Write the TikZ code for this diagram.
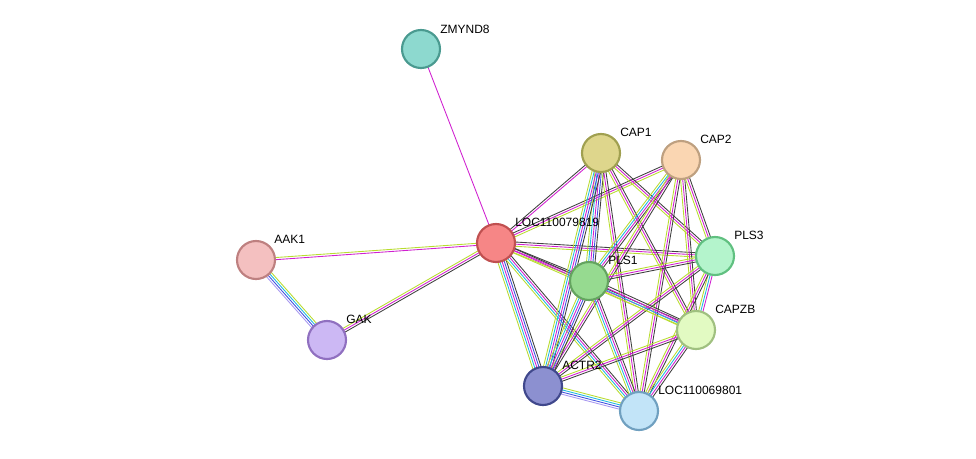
\documentclass[tikz,border=0pt]{standalone}
\usepackage{fontspec}
\setmainfont{Liberation Sans}
\usetikzlibrary{calc}
\definecolor{ek}{HTML}{404040}
\definecolor{em}{HTML}{D020D0}
\definecolor{ey}{HTML}{B8DC30}
\definecolor{ec}{HTML}{20B8E0}
\definecolor{eb}{HTML}{4050E0}
\definecolor{el}{HTML}{A898F0}
\newcommand\ed[4]{%
  \foreach \cc [count=\i] in {#4} {%
    \pgfmathsetmacro\o{(\i-(#3+1)/2)*1.6}%
    \draw[\cc,line width=0.65pt] ($(#1)!\o pt!90:(#2)$) -- ($(#2)!\o pt!-90:(#1)$);
  }}
\tikzset{
  prot/.style={circle,minimum size=28.5pt,inner sep=0pt,line width=1.6pt},
  lab/.style={anchor=base west,font=\fontsize{9}{10}\selectfont,inner sep=0pt}
}
\begin{document}
\begin{tikzpicture}[x=0.75pt,y=0.75pt]
\useasboundingbox (0,0) rectangle (976,-458);
\coordinate (zm) at (421,-49);
\coordinate (loc) at (496,-243);
\coordinate (cap1) at (601,-153);
\coordinate (cap2) at (681,-160);
\coordinate (aak) at (256,-260);
\coordinate (pls3) at (715,-256);
\coordinate (pls1) at (589,-281);
\coordinate (gak) at (327,-340);
\coordinate (capzb) at (696,-330);
\coordinate (actr) at (543,-386);
\coordinate (l69) at (639,-411);
% edges
\ed{zm}{loc}{1}{em}
\ed{loc}{aak}{2}{ey,em}
\ed{loc}{gak}{3}{ey,em,ek}
\ed{aak}{gak}{4}{el,eb,ec,ey}
\ed{loc}{cap1}{2}{em,ek}
\ed{loc}{cap2}{3}{ey,em,ek}
\ed{loc}{pls3}{3}{ey,em,ek}
\ed{loc}{pls1}{3}{ey,em,ek}
\ed{loc}{capzb}{3}{ey,em,ek}
\ed{loc}{actr}{5}{ey,ec,em,eb,ek}
\ed{loc}{l69}{4}{ey,ec,em,ek}
\ed{cap1}{pls1}{5}{ey,ec,em,eb,ek}
\ed{cap1}{actr}{5}{ey,ec,em,eb,ek}
\ed{cap1}{l69}{3}{ey,em,ek}
\ed{cap1}{capzb}{3}{ey,em,ek}
\ed{cap1}{pls3}{3}{ey,em,ek}
\ed{cap2}{pls1}{4}{ey,ec,em,ek}
\ed{cap2}{actr}{3}{ey,em,ek}
\ed{cap2}{capzb}{3}{ey,em,ek}
\ed{cap2}{l69}{3}{ey,em,ek}
\ed{cap2}{pls3}{3}{ey,em,ek}
\ed{pls3}{pls1}{3}{ey,em,ek}
\ed{pls3}{actr}{3}{ey,em,ek}
\ed{pls3}{capzb}{3}{ey,ec,em}
\ed{pls3}{l69}{3}{ey,em,ek}
\ed{pls1}{capzb}{4}{ey,ec,em,ek}
\ed{pls1}{actr}{5}{ey,ec,em,eb,ek}
\ed{pls1}{l69}{4}{ey,ec,em,ek}
\ed{capzb}{actr}{3}{ey,em,ek}
\ed{capzb}{l69}{4}{ey,ec,em,ek}
\ed{actr}{l69}{4}{el,eb,ec,ey}
% nodes
\node[prot,fill={rgb,255:red,141;green,217;blue,207},draw={rgb,255:red,74;green,154;blue,144}] (nzm) at (zm) {};
\node[prot,fill={rgb,255:red,246;green,134;blue,134},draw={rgb,255:red,192;green,80;blue,80}] (nloc) at (loc) {};
\node[prot,fill={rgb,255:red,222;green,214;blue,140},draw={rgb,255:red,160;green,160;blue,80}] (ncap1) at (cap1) {};
\node[prot,fill={rgb,255:red,250;green,214;blue,178},draw={rgb,255:red,190;green,160;blue,128}] (ncap2) at (cap2) {};
\node[prot,fill={rgb,255:red,244;green,192;blue,192},draw={rgb,255:red,190;green,128;blue,128}] (naak) at (aak) {};
\node[prot,fill={rgb,255:red,180;green,244;blue,204},draw={rgb,255:red,96;green,192;blue,128}] (npls3) at (pls3) {};
\node[prot,fill={rgb,255:red,150;green,218;blue,144},draw={rgb,255:red,100;green,164;blue,96}] (npls1) at (pls1) {};
\node[prot,fill={rgb,255:red,204;green,184;blue,244},draw={rgb,255:red,144;green,112;blue,192}] (ngak) at (gak) {};
\node[prot,fill={rgb,255:red,226;green,250;blue,194},draw={rgb,255:red,160;green,192;blue,128}] (ncapzb) at (capzb) {};
\node[prot,fill={rgb,255:red,140;green,144;blue,208},draw={rgb,255:red,64;green,72;blue,140}] (nactr) at (actr) {};
\node[prot,fill={rgb,255:red,194;green,228;blue,248},draw={rgb,255:red,112;green,160;blue,192}] (nl69) at (l69) {};
% labels
\node[lab] at ($(zm)+(19,16)$) {ZMYND8};
\node[lab] at ($(loc)+(19,17)$) {LOC110079819};
\node[lab] at ($(cap1)+(19,17)$) {CAP1};
\node[lab] at ($(cap2)+(19,17)$) {CAP2};
\node[lab] at ($(aak)+(18,17)$) {AAK1};
\node[lab] at ($(pls3)+(19,17)$) {PLS3};
\node[lab] at ($(pls1)+(19,17)$) {PLS1};
\node[lab] at ($(gak)+(19,17)$) {GAK};
\node[lab] at ($(capzb)+(19,17)$) {CAPZB};
\node[lab] at ($(actr)+(19,17)$) {ACTR2};
\node[lab] at ($(l69)+(19,17)$) {LOC110069801};
\end{tikzpicture}
\end{document}
